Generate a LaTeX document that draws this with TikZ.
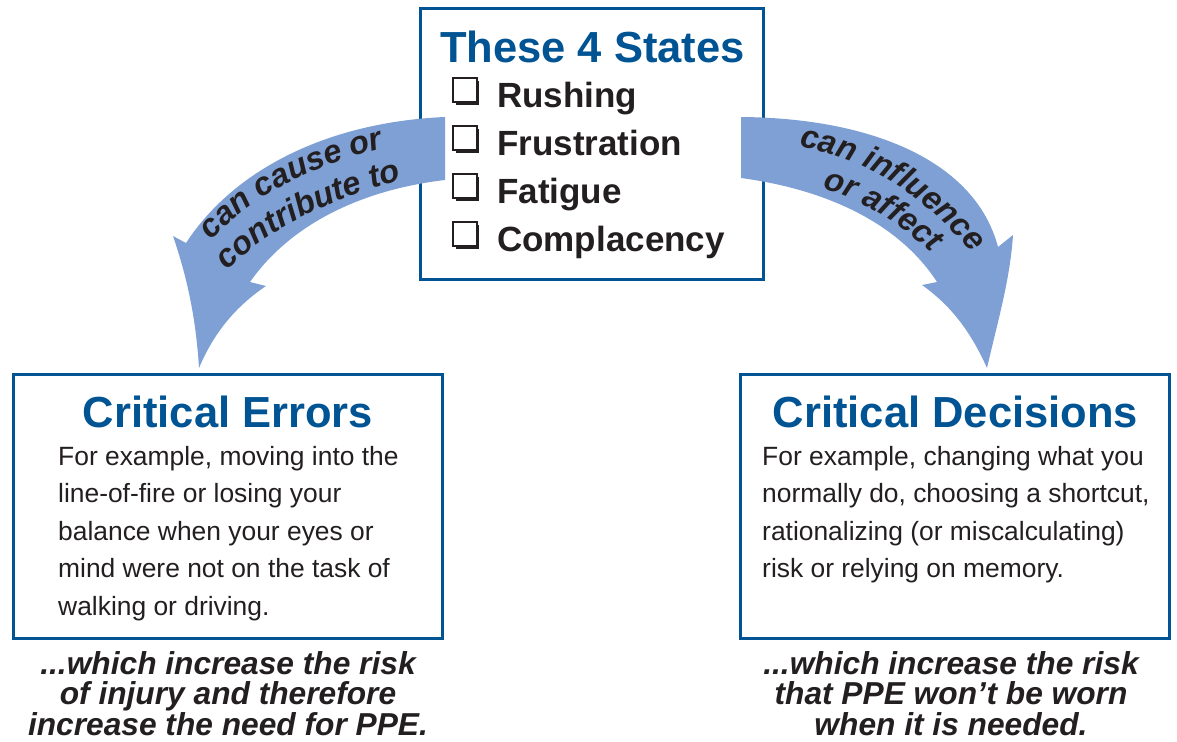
\documentclass[tikz,border=0pt]{standalone}
\usepackage{fontspec}
\setmainfont{Liberation Sans}
\usetikzlibrary{decorations.text,shadows}
\definecolor{boxblue}{RGB}{0,84,147}
\definecolor{arrowblue}{RGB}{126,160,212}
\definecolor{ink}{RGB}{35,31,32}
\begin{document}
\begin{tikzpicture}[x=1pt,y=-1pt,
  box/.style={draw=boxblue, line width=3pt, fill=white, inner sep=0pt},
  title/.style={font=\fontsize{43.5}{50}\selectfont\bfseries, text=boxblue, inner sep=0pt, anchor=base},
  item/.style={font=\fontsize{35}{40}\selectfont\bfseries, text=ink, inner sep=0pt, anchor=base west},
  chk/.style={draw=ink, line width=2.4pt, fill=white, minimum size=23.5pt, inner sep=0pt,
    drop shadow={shadow xshift=2.5pt, shadow yshift=-3pt, opacity=1, fill=ink}},
  body/.style={font=\fontsize{26.4}{37.5}\selectfont, text=ink, inner sep=0pt, anchor=north west, align=left},
  note/.style={font=\fontsize{31.7}{30.5}\selectfont\bfseries\itshape, text=ink, inner sep=0pt, anchor=north, align=center},
  band/.style={fill=arrowblue},
  bandtext/.style={decorate, decoration={text along path, text align=left, text color=ink,
    text={|\fontsize{32.5}{32.5}\selectfont\bfseries\itshape|#1}}}
]
\useasboundingbox (0,0) rectangle (1177,741);

% boxes
\node[box, minimum width=343pt, minimum height=271pt] (states) at (592,144) {};
\node[box, minimum width=428.5pt, minimum height=263.5pt] (errors) at (227.75,506.25) {};
\node[box, minimum width=429pt, minimum height=263.5pt] (decisions) at (955,506.25) {};

% top box content
\node[title] (statesT) at (592.5,63) {These 4 States};
\node[chk] (c1) at (465,90) {};
\node[chk] (c2) at (465,138) {};
\node[chk] (c3) at (465,186) {};
\node[chk] (c4) at (465,234) {};
\node[item] (i1) at (497,107) {Rushing};
\node[item] (i2) at (497,155) {Frustration};
\node[item] (i3) at (497,203) {Fatigue};
\node[item] (i4) at (497,251) {Complacency};

% arrows
\fill[band] (445,117) .. controls (330,122) and (235,168) .. (186,243) -- (173,236)
  .. controls (188,280) and (196,320) .. (199,368)
  .. controls (215,330) and (238,305) .. (266,286) -- (250,282)
  .. controls (290,225) and (360,190) .. (445,180) -- cycle;
\fill[band] (741,117) .. controls (870,118) and (975,160) .. (998,247) -- (1013,235)
  .. controls (1010,280) and (998,320) .. (987,368)
  .. controls (970,330) and (950,305) .. (922,285) -- (937,282)
  .. controls (900,225) and (830,190) .. (741,178) -- cycle;

% arrow labels
\path[bandtext={can cause or}]
  (212,241) .. controls (252,194) and (322,158) .. (430,138);
\path[bandtext={contribute to}]
  (228,271) .. controls (262,233) and (332,193) .. (445,170);
\path[bandtext={can influence}]
  (799,147) .. controls (872,159) and (934,200) .. (992,278);
\path[bandtext={or affect}]
  (822,189) .. controls (862,199) and (908,226) .. (955,276);

% bottom boxes content
\node[title] (errorsT) at (228,427) {Critical Errors};
\node[title] (decisionsT) at (955.5,427) {Critical Decisions};
\node[body] (errorsB) at (58,446) {For example, moving into the\\line-of-fire or losing your\\balance when your eyes or\\mind were not on the task of\\walking or driving.};
\node[body] (decisionsB) at (762,446) {For example, changing what you\\normally do, choosing a shortcut,\\rationalizing (or miscalculating)\\risk or relying on memory.};

% notes
\node[note] (errorsN) at (228,651.3) {...which increase the risk\\of injury and therefore\\increase the need for PPE.};
\node[note] (decisionsN) at (951,651.3) {...which increase the risk\\that PPE won’t be worn\\when it is needed.};
\end{tikzpicture}
\end{document}
